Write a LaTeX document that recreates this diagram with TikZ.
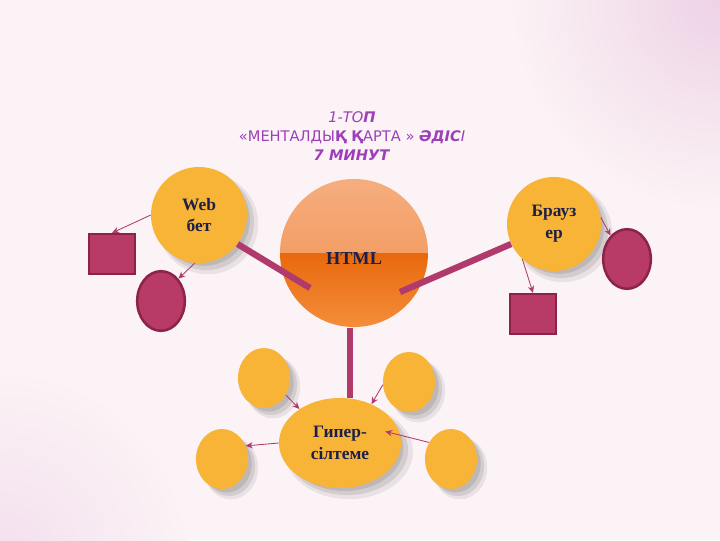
\documentclass[tikz,border=0pt]{standalone}
\usepackage{fontspec}
\setmainfont{Liberation Serif}
\newfontfamily\titlefont{DejaVu Sans}
\usetikzlibrary{positioning,arrows.meta,shapes.geometric,shadows}

\begin{document}
\begin{tikzpicture}[x=0.025cm,y=-0.025cm,
  soft/.style={
    drop shadow={shadow xshift=6pt,shadow yshift=-6pt,shadow scale=1.05,opacity=0.07,fill=black},
    drop shadow={shadow xshift=5pt,shadow yshift=-5pt,opacity=0.09,fill=black},
    drop shadow={shadow xshift=3.5pt,shadow yshift=-3.5pt,shadow scale=0.96,opacity=0.1,fill=black}},
  bubble/.style={circle,fill=cyel,inner sep=0pt,align=center,text=cink,
    font=\bfseries\fontsize{12.4}{15.5}\selectfont,soft},
  blob/.style={ellipse,fill=cyel,inner sep=0pt,minimum width=1.3cm,minimum height=1.5cm,soft},
  leaf/.style={draw=cdark,line width=1.8pt,fill=cmag,inner sep=0pt},
  spoke/.style={cline,line width=4.5pt},
  link/.style={cline,line width=0.6pt,-{Stealth[length=5pt,width=4.5pt]}}]
\definecolor{cbg}{HTML}{FBF3F5}\definecolor{cpink}{HTML}{EED2E6}
\definecolor{cyel}{HTML}{F8B436}\definecolor{cink}{HTML}{1C1F48}
\definecolor{cmag}{HTML}{B83A66}\definecolor{cdark}{HTML}{8C2449}
\definecolor{cline}{HTML}{B03A6C}\definecolor{ctitle}{HTML}{9C3FB8}
\definecolor{chtA}{HTML}{F6AD7E}\definecolor{chtB}{HTML}{F0904F}
\definecolor{chtC}{HTML}{E8690C}\definecolor{chtD}{HTML}{F58D3C}
% background
\useasboundingbox (0,0) rectangle (720,540);
\fill[cbg] (0,0) rectangle (720,540);
\shade[inner color=cpink,outer color=cbg] (720,0) circle (210);
\shade[inner color=cpink!70,outer color=cbg] (0,560) circle (190);
% title
\node[text=ctitle,align=center,font=\titlefont\fontsize{10.4}{13.5}\selectfont]
  (ttl) at (352,136)
  {\textit{1-ТО}\textbf{\textit{П}}\\
   «МЕНТАЛДЫ\textbf{Қ} \textbf{Қ}АРТА » \textbf{\textit{ӘДІС}}\textit{І}\\
   \textbf{\textit{7 МИНУТ}}};
% centre
\node[circle,minimum size=3.7cm,inner sep=0pt,
  label={[text=cink,font=\bfseries\fontsize{13}{15}\selectfont,yshift=-4pt]center:HTML},
  path picture={
    \shade[top color=chtA,bottom color=chtB]
      (path picture bounding box.north west) rectangle (path picture bounding box.east);
    \shade[top color=chtC,bottom color=chtD]
      (path picture bounding box.west) rectangle (path picture bounding box.south east);}]
  (html) at (354,253) {};
% three main bubbles
\node[bubble,minimum size=2.4cm] (web) at (199,215) {Web\\бет};
\node[bubble,minimum size=2.35cm] (brauz) at (554,224) {Брауз\\ер};
\node[bubble,ellipse,minimum width=3.05cm,minimum height=2.25cm] (hyp) at (340,443)
  {Гипер-\\сілтеме};
% spokes
\coordinate (hw) at (310,288);
\coordinate (he) at (400,292);
\coordinate (hs) at (350,328);
\draw[spoke] (web.-37) -- (hw);
\draw[spoke] (brauz.205) -- (he);
\draw[spoke] (hs) -- (hs |- hyp.north);
% leaves of web / brauz
\node[leaf,minimum width=1.14cm,minimum height=0.99cm] (sq1) at (112,254) {};
\node[leaf,ellipse,minimum width=1.19cm,minimum height=1.49cm] (ell1) at (161,301) {};
\node[leaf,ellipse,minimum width=1.19cm,minimum height=1.49cm] (ell2) at (627,259) {};
\node[leaf,minimum width=1.14cm,minimum height=0.99cm] (sq2) at (533,314) {};
\draw[link] (web.west) -- (sq1.north);
\draw[link] (web.-95) -- (ell1.52);
\draw[link] (brauz.8) -- (ell2.125);
\draw[link] (brauz.-132) -- (sq2.north);
% small blobs round the hyperlink
\node[blob] (tl) at (264,378) {};
\node[blob] (tr) at (409,382) {};
\node[blob] (bl) at (222,459) {};
\node[blob] (br) at (451,459) {};
\draw[link] (tl.-38) -- (hyp.140);
\draw[link] (tr.186) -- (hyp.51);
\draw[link] (hyp.west) -- (bl.29);
\draw[link] (br.143) -- ([xshift=-10pt]hyp.11);
\end{tikzpicture}
\end{document}
